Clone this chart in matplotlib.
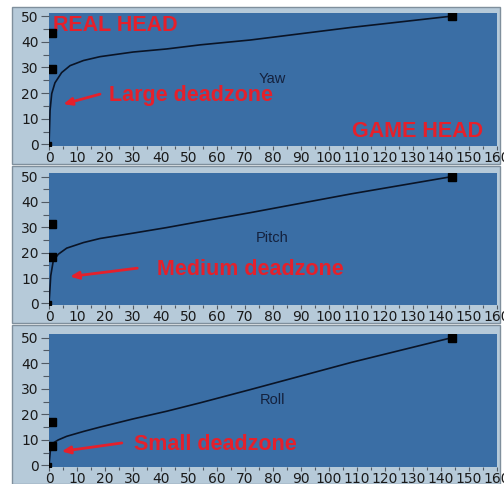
import matplotlib
matplotlib.use("Agg")
import matplotlib.pyplot as plt
from matplotlib.patches import Rectangle
from matplotlib.ticker import MultipleLocator

# ---- data ----
names = ["Yaw", "Pitch", "Roll"]
yaw_x = [0, 0.36, 0.95, 2.1, 4.5, 7.5, 12.3, 18.2, 30, 42, 54, 72, 108, 144]
yaw_y = [0, 13.3, 19.8, 24, 28, 30.7, 32.7, 34.2, 36, 37.2, 38.8, 40.7, 45.6, 50]
pitch_x = [0, 0.6, 1.5, 3.3, 6.3, 12.3, 18.2, 30, 42, 54, 72, 108, 144]
pitch_y = [0, 10.9, 16.8, 19.4, 21.8, 24, 25.6, 27.7, 29.9, 32.3, 35.8, 43.2, 50]
roll_x = [0, 0.6, 1.5, 3.3, 6.3, 12.3, 18.2, 30, 42, 54, 72, 108, 144]
roll_y = [0, 7.5, 8.8, 10, 11.4, 13.3, 15, 18.2, 21.2, 24.5, 29.7, 40.3, 50]
curves_x = [yaw_x, pitch_x, roll_x]
curves_y = [yaw_y, pitch_y, roll_y]
ctrl_x = [1, 1]
ctrl_y = [[29.3, 43.4], [18.2, 31.5], [7.8, 16.9]]
end_x = [144]
end_y = [50]
x_ticks = list(range(0, 161, 10))
y_ticks = list(range(0, 51, 10))

deadzone_labels = ["Large deadzone", "Medium deadzone", "Small deadzone"]

W, H = 504, 484
fig = plt.figure(figsize=(W / 100, H / 100), dpi=100)
fig.patch.set_facecolor("white")

def fx(px):
    return px / W

def fy(py):
    return 1 - py / H

# background axes for the panel frames
bg = fig.add_axes([0, 0, 1, 1], zorder=-5)
bg.set_xlim(0, W)
bg.set_ylim(H, 0)
bg.axis("off")
frames = [(7, 164), (166, 323), (325, 484)]
for top, bot in frames:
    bg.add_patch(Rectangle((12, top), 488, bot - top, facecolor="#b6cad9",
                           edgecolor="#7f8f9c", linewidth=1.0))

axes_px = [(12.5, 146), (173, 305), (334, 467)]
left_px, right_px = 48.5, 497

axes = []
for i, (top, bot) in enumerate(axes_px):
    ax = fig.add_axes([fx(left_px), fy(bot), fx(right_px) - fx(left_px), fy(top) - fy(bot)])
    ax.set_facecolor("#3a6ea5")
    ax.set_xlim(-0.2, 160)
    ax.set_ylim(-0.6, 51.4)
    ax.set_xticks(x_ticks)
    ax.set_yticks(y_ticks)
    ax.xaxis.set_minor_locator(MultipleLocator(5))
    ax.yaxis.set_minor_locator(MultipleLocator(5))
    ax.tick_params(axis="both", which="major", direction="out", color="#505a64",
                   labelsize=10, labelcolor="#1a1a1a", width=0.8)
    ax.tick_params(axis="y", which="major", length=6, pad=1)
    ax.tick_params(axis="y", which="minor", length=4, color="#505a64", width=0.8)
    ax.tick_params(axis="x", which="major", length=3, pad=0.5)
    ax.tick_params(axis="x", which="minor", length=2, color="#505a64", width=0.8)
    for lab in ax.get_xticklabels() + ax.get_yticklabels():
        lab.set_family("DejaVu Sans")
    for s in ax.spines.values():
        s.set_visible(False)

    ax.plot(curves_x[i], curves_y[i], color="#0a1426", linewidth=1.2, zorder=3)
    ax.plot(ctrl_x, ctrl_y[i], linestyle="none", marker="s", markersize=6,
            color="black", zorder=4)
    ax.plot([0], [0], linestyle="none", marker="s", markersize=3.5, color="black", zorder=4)
    ax.plot(end_x, end_y, linestyle="none", marker="s", markersize=5.5, color="black", zorder=4)
    ax.text(79.8, 25.6, names[i], ha="center", va="center", fontsize=10.5,
            color="#14213d", family="Liberation Sans")
    axes.append(ax)

red = "#e5202b"
tfont = dict(color=red, fontsize=15.5, fontweight="bold", family="Liberation Sans")

axes[0].text(1.4, 46.5, "REAL HEAD", ha="left", va="center", **tfont)
axes[0].text(131.8, 5.0, "GAME HEAD", ha="center", va="center", **tfont)

label_pos = [(50.6, 19.2), (71.9, 13.5), (59.3, 8.1)]
arrow_tail = [(18.2, 19.6), (31.5, 13.9), (26.0, 8.8)]
arrow_head = [(5.1, 15.7), (7.5, 10.6), (4.5, 5.5)]
for i, ax in enumerate(axes):
    ax.text(label_pos[i][0], label_pos[i][1], deadzone_labels[i], ha="center",
            va="center", **tfont)
    ax.annotate("", xy=arrow_head[i], xytext=arrow_tail[i],
                arrowprops=dict(arrowstyle="-|>,head_length=0.5,head_width=0.22",
                                color=red, linewidth=2.0, shrinkA=0, shrinkB=0))

fig.savefig("out.png", dpi=100, facecolor="white")
